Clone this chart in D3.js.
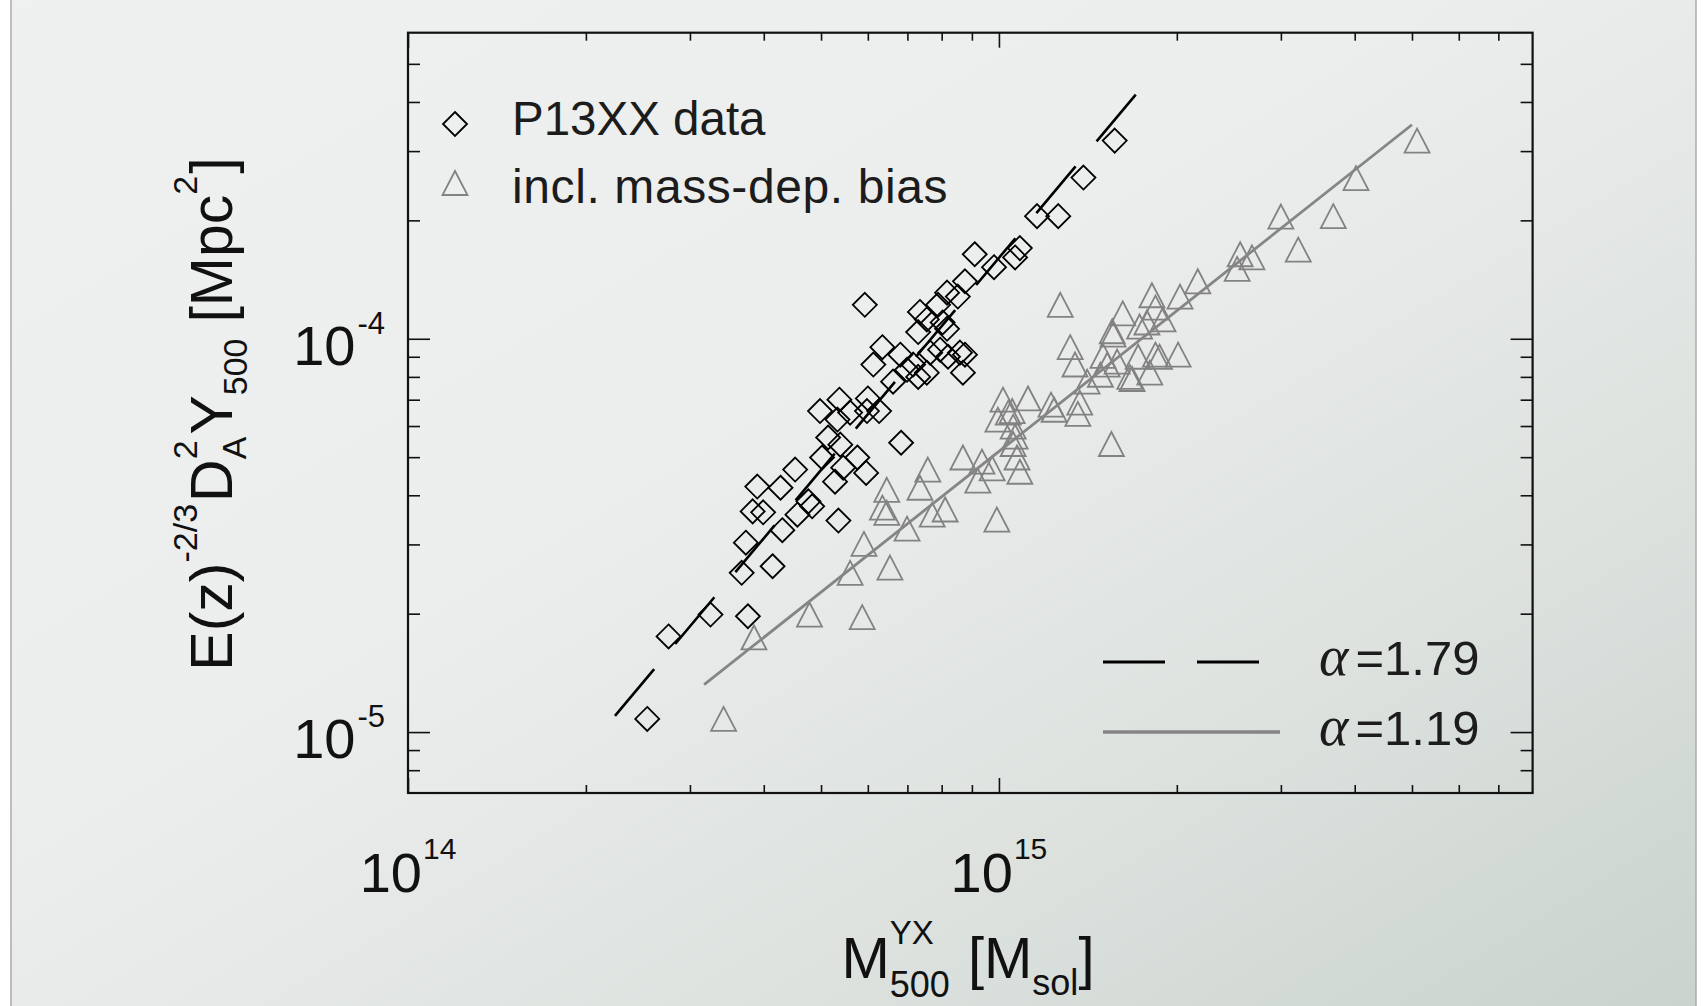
<!DOCTYPE html>
<html>
<head>
<meta charset="utf-8">
<script src="https://cdn.jsdelivr.net/npm/d3@7"></script>
<style>
  html, body { margin: 0; padding: 0; background: #ffffff; overflow: hidden; }
  svg text { white-space: pre; }
</style>
</head>
<body>
<svg id="chart" width="1708" height="1006"></svg>
<script>
// ---- data -------------------------------------------------------------
// P13XX clusters: Y_X-based mass M500 [M_sol] and E(z)^-2/3 D_A^2 Y500 [Mpc^2]
const p13Mass = [
  2.54e14, 2.76e14, 3.25e14, 3.76e14, 3.67e14, 4.14e14, 3.73e14, 4.30e14, 5.35e14, 4.56e14,
  4.76e14, 4.83e14, 3.83e14, 3.99e14, 3.90e14, 4.27e14, 4.52e14, 5.02e14, 5.28e14, 5.45e14,
  5.76e14, 5.96e14, 5.14e14, 5.39e14, 4.98e14, 5.37e14, 5.33e14, 5.60e14, 6.00e14, 5.98e14,
  6.27e14, 6.83e14, 6.13e14, 6.35e14, 6.62e14, 6.81e14, 6.99e14, 7.16e14, 7.30e14, 7.30e14,
  7.55e14, 7.65e14, 7.95e14, 8.03e14, 8.17e14, 8.20e14, 8.59e14, 8.76e14, 8.69e14, 5.93e14,
  7.35e14, 7.55e14, 7.89e14, 8.17e14, 8.52e14, 8.76e14, 9.10e14, 9.81e14, 1.065e15, 1.085e15,
  1.16e15, 1.26e15, 1.39e15, 1.57e15
];
const p13Y = [
  1.08e-5, 1.75e-5, 1.99e-5, 1.97e-5, 2.54e-5, 2.64e-5, 3.03e-5, 3.26e-5, 3.45e-5, 3.57e-5,
  3.86e-5, 3.75e-5, 3.64e-5, 3.62e-5, 4.21e-5, 4.18e-5, 4.65e-5, 4.99e-5, 4.33e-5, 4.70e-5,
  4.99e-5, 4.56e-5, 5.61e-5, 5.38e-5, 6.55e-5, 7.00e-5, 6.23e-5, 6.49e-5, 7.05e-5, 6.55e-5,
  6.55e-5, 5.44e-5, 8.60e-5, 9.52e-5, 7.78e-5, 9.11e-5, 8.34e-5, 8.60e-5, 8.00e-5, 1.04e-4,
  8.20e-5, 9.22e-5, 9.38e-5, 1.10e-4, 1.06e-4, 9.00e-5, 9.22e-5, 9.11e-5, 8.20e-5, 1.22e-4,
  1.17e-4, 1.12e-4, 1.22e-4, 1.31e-4, 1.28e-4, 1.40e-4, 1.64e-4, 1.52e-4, 1.61e-4, 1.70e-4,
  2.05e-4, 2.05e-4, 2.57e-4, 3.19e-4
];

// Same clusters with a mass-dependent hydrostatic bias applied
const biasMass = [
  3.42e14, 3.85e14, 4.78e14, 5.87e14, 5.60e14, 6.54e14, 5.91e14, 6.99e14, 6.46e14, 6.46e14,
  6.35e14, 7.58e14, 7.35e14, 7.71e14, 8.11e14, 8.69e14, 9.36e14, 9.21e14, 9.92e14, 9.74e14,
  1.085e15, 1.073e15, 1.057e15, 1.016e15, 1.12e15, 1.053e15, 9.96e14, 1.037e15, 1.057e15, 1.065e15,
  1.225e15, 1.24e15, 1.37e15, 1.36e15, 1.55e15, 1.41e15, 1.485e15, 1.50e15, 1.525e15, 1.585e15,
  1.555e15, 1.56e15, 1.62e15, 1.73e15, 1.815e15, 1.84e15, 1.895e15, 1.78e15, 1.665e15, 1.72e15,
  1.80e15, 1.84e15, 1.87e15, 2.01e15, 1.68e15, 2.025e15, 2.17e15, 2.53e15, 2.56e15, 2.68e15,
  3.21e15, 3.00e15, 3.68e15, 4.02e15, 5.10e15, 1.27e15, 1.32e15, 1.345e15
];
const biasY = [
  1.08e-5, 1.74e-5, 1.99e-5, 1.96e-5, 2.54e-5, 2.62e-5, 3.01e-5, 3.29e-5, 4.13e-5, 3.61e-5,
  3.72e-5, 4.65e-5, 4.18e-5, 3.57e-5, 3.68e-5, 4.99e-5, 4.87e-5, 4.36e-5, 3.47e-5, 4.68e-5,
  4.59e-5, 4.99e-5, 5.40e-5, 7.00e-5, 7.05e-5, 6.55e-5, 6.23e-5, 6.49e-5, 5.98e-5, 5.64e-5,
  6.80e-5, 6.60e-5, 6.88e-5, 6.44e-5, 5.40e-5, 7.78e-5, 8.10e-5, 9.05e-5, 8.59e-5, 8.75e-5,
  1.045e-4, 1.025e-4, 1.16e-4, 1.074e-4, 1.29e-4, 1.20e-4, 1.12e-4, 1.10e-4, 8.00e-5, 9.00e-5,
  8.20e-5, 9.11e-5, 9.00e-5, 9.11e-5, 7.90e-5, 1.28e-4, 1.40e-4, 1.505e-4, 1.64e-4, 1.61e-4,
  1.685e-4, 2.045e-4, 2.05e-4, 2.56e-4, 3.19e-4, 1.22e-4, 9.52e-5, 8.60e-5
];

// Power-law fits (end points of the drawn segments) and their slopes
const fitMass = [[2.24e14, 1.71e15], [3.17e14, 5.00e15]];
const fitY    = [[1.10e-5, 4.20e-4], [1.32e-5, 3.50e-4]];
const fitAlpha = ["1.79", "1.19"];

// Axis ticks
const xMajor = [1e14, 1e15];
const xMinor = [2e14, 3e14, 4e14, 5e14, 6e14, 7e14, 8e14, 9e14, 2e15, 3e15, 4e15, 5e15, 6e15, 7e15];
const xTickExp = ["14", "15"];
const yMajor = [1e-5, 1e-4];
const yMinor = [8e-6, 9e-6, 2e-5, 3e-5, 4e-5, 5e-5, 6e-5, 7e-5, 8e-5, 9e-5, 2e-4, 3e-4, 4e-4, 5e-4];
const yTickExp = ["-5", "-4"];

const legendLabels = ["P13XX data", "incl. mass-dep. bias"];

// ---- layout -----------------------------------------------------------
const W = 1708, H = 1006;
const plotL = 408, plotR = 1532.6, plotT = 32.7, plotB = 793;
const FONT = "'Liberation Sans', Arial, Helvetica, sans-serif";
const INK = "#111111";
const GREY = "#828282";

const svg = d3.select("#chart");
const defs = svg.append("defs");
const grad = defs.append("linearGradient").attr("id", "panelGrad")
  .attr("x1", 0).attr("y1", 0).attr("x2", 1).attr("y2", 1);
grad.append("stop").attr("offset", "0%").attr("stop-color", "#eff1f0");
grad.append("stop").attr("offset", "42%").attr("stop-color", "#eceeed");
grad.append("stop").attr("offset", "72%").attr("stop-color", "#dde2df");
grad.append("stop").attr("offset", "100%").attr("stop-color", "#cad3ce");

svg.append("rect").attr("x", 11).attr("y", -4).attr("width", 1685).attr("height", H + 8)
  .attr("fill", "url(#panelGrad)").attr("stroke", "#a9adab").attr("stroke-width", 1.5);

const x = d3.scaleLog().domain([1e14, 8e15]).range([plotL, plotR]);
const y = d3.scaleLog().domain([7e-6, 6e-4]).range([plotB, plotT]);

// ---- ticks (all four sides, pointing inward) ---------------------------
function tickAxis(axisFn, scale, values, size, tx, ty) {
  const g = svg.append("g").attr("transform", `translate(${tx},${ty})`)
    .call(axisFn(scale).tickValues(values).tickSize(size).tickFormat(""));
  g.select(".domain").remove();
  g.selectAll(".tick line").attr("stroke", INK).attr("stroke-width", 1.6);
}
tickAxis(d3.axisBottom, x, xMinor, -8, 0, plotB);
tickAxis(d3.axisBottom, x, xMajor, -15, 0, plotB);
tickAxis(d3.axisTop, x, xMinor, -8, 0, plotT);
tickAxis(d3.axisTop, x, xMajor, -15, 0, plotT);
tickAxis(d3.axisLeft, y, yMinor, -12, plotL, 0);
tickAxis(d3.axisLeft, y, yMajor, -22, plotL, 0);
tickAxis(d3.axisRight, y, yMinor, -12, plotR, 0);
tickAxis(d3.axisRight, y, yMajor, -22, plotR, 0);

svg.append("rect").attr("x", plotL).attr("y", plotT)
  .attr("width", plotR - plotL).attr("height", plotB - plotT)
  .attr("fill", "none").attr("stroke", INK).attr("stroke-width", 2.2);

// ---- rich text helper: runs of text with super/subscripts ----------------
function rich(parent, segs, opt) {
  const g = parent.append("g");
  const inner = g.append("g");
  let cx = 0, pending = 0;
  segs.forEach(s => {
    cx += s.gap || 0;
    const t = inner.append("text")
      .attr("x", cx).attr("y", s.dy || 0)
      .attr("font-size", s.fs)
      .attr("font-family", s.ff || FONT)
      .attr("font-style", s.italic ? "italic" : null)
      .attr("fill", opt.fill || INK)
      .text(s.t);
    const w = t.node().getComputedTextLength();
    if (s.stack) { pending = Math.max(pending, w); }
    else { cx += Math.max(w, pending); pending = 0; }
  });
  const off = opt.anchor === "middle" ? -cx / 2 : opt.anchor === "end" ? -cx : 0;
  inner.attr("transform", `translate(${off},0)`);
  g.attr("transform", `translate(${opt.x},${opt.y})` + (opt.rotate ? ` rotate(${opt.rotate})` : ""));
  return g;
}

// tick labels
xMajor.forEach((v, i) => {
  rich(svg, [{ t: "10", fs: 56 }, { t: xTickExp[i], fs: 30, dy: -33, gap: 1 }],
    { x: x(v), y: plotB + 99, anchor: "middle" });
});
yMajor.forEach((v, i) => {
  rich(svg, [{ t: "10", fs: 56 }, { t: yTickExp[i], fs: 31, dy: -31, gap: 2 }],
    { x: plotL - 23, y: y(v) + 26, anchor: "end" });
});

// axis titles
rich(svg, [
  { t: "M", fs: 58 },
  { t: "YX", fs: 33, dy: -34, stack: true },
  { t: "500", fs: 36, dy: 19 },
  { t: "[M", fs: 58, gap: 18 },
  { t: "sol", fs: 36, dy: 17 },
  { t: "]", fs: 58 }
], { x: 968, y: 978, anchor: "middle" });

rich(svg, [
  { t: "E(z)", fs: 59 },
  { t: "-2/3", fs: 34, dy: -35 },
  { t: "D", fs: 59, gap: 2 },
  { t: "2", fs: 34, dy: -35, stack: true },
  { t: "A", fs: 34, dy: 14 },
  { t: "Y", fs: 59, gap: 2 },
  { t: "500", fs: 34, dy: 15 },
  { t: "[Mpc", fs: 59, gap: 16 },
  { t: "2", fs: 34, dy: -35 },
  { t: "]", fs: 59, gap: 2 }
], { x: 232, y: 414, anchor: "middle", rotate: -90 });

// ---- marks -------------------------------------------------------------
const plot = svg.append("g");
const diamondPath = "M0,-12L12,0L0,12L-12,0Z";
const trianglePath = "M0,-12L12.5,12L-12.5,12Z";

const biasPts = biasMass.map((m, i) => [m, biasY[i]]);
const p13Pts = p13Mass.map((m, i) => [m, p13Y[i]]);

plot.selectAll("path.tri").data(biasPts).join("path")
  .attr("class", "tri")
  .attr("d", trianglePath)
  .attr("transform", d => `translate(${x(d[0])},${y(d[1])})`)
  .attr("fill", "none").attr("stroke", GREY).attr("stroke-width", 1.8);

plot.selectAll("path.dia").data(p13Pts).join("path")
  .attr("class", "dia")
  .attr("d", diamondPath)
  .attr("transform", d => `translate(${x(d[0])},${y(d[1])})`)
  .attr("fill", "none").attr("stroke", "#000").attr("stroke-width", 1.8);

// fit lines
const line = d3.line().x(d => x(d[0])).y(d => y(d[1]));
const fitStyles = [
  { stroke: "#000", width: 2.6, dash: "61,32.7" },
  { stroke: "#858585", width: 2.8, dash: null }
];
fitMass.forEach((ms, i) => {
  plot.append("path")
    .attr("d", line(ms.map((m, j) => [m, fitY[i][j]])))
    .attr("fill", "none")
    .attr("stroke", fitStyles[i].stroke)
    .attr("stroke-width", fitStyles[i].width)
    .attr("stroke-dasharray", fitStyles[i].dash);
});

// ---- legends -----------------------------------------------------------
const leg = svg.append("g");
leg.append("path").attr("d", diamondPath).attr("transform", "translate(455,124)")
  .attr("fill", "none").attr("stroke", "#000").attr("stroke-width", 1.8);
leg.append("path").attr("d", trianglePath).attr("transform", "translate(455,183)")
  .attr("fill", "none").attr("stroke", GREY).attr("stroke-width", 1.8);
leg.append("text").attr("x", 512).attr("y", 135).attr("font-family", FONT)
  .attr("font-size", 47.5).attr("fill", "#1c1c1c").text(legendLabels[0]);
leg.append("text").attr("x", 512).attr("y", 203).attr("font-family", FONT)
  .attr("font-size", 48).attr("letter-spacing", 0.6).attr("fill", "#1c1c1c").text(legendLabels[1]);

const fitLegY = [662, 732];
fitStyles.forEach((s, i) => {
  leg.append("line")
    .attr("x1", 1103).attr("x2", i === 0 ? 1259 : 1280)
    .attr("y1", fitLegY[i]).attr("y2", fitLegY[i])
    .attr("stroke", s.stroke).attr("stroke-width", s.width + 0.6)
    .attr("stroke-dasharray", i === 0 ? "62,32" : null);
  rich(leg, [
    { t: "α", fs: 56, ff: "'Liberation Serif', 'Times New Roman', serif", italic: true },
    { t: "=" + fitAlpha[i], fs: 49, gap: 7 }
  ], { x: 1319, y: fitLegY[i] + 13, anchor: "start", fill: "#1c1c1c" });
});
</script>
</body>
</html>
